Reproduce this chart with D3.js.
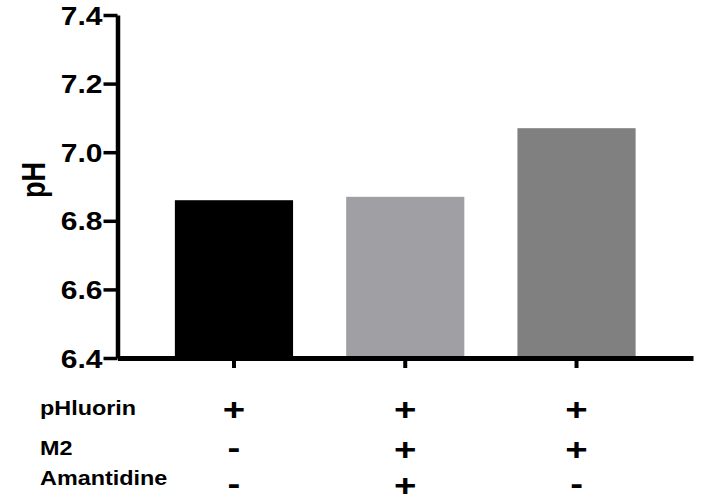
<!DOCTYPE html>
<html>
<head>
<meta charset="utf-8">
<script src="https://cdn.jsdelivr.net/npm/d3@7"></script>
<style>
  html, body { margin: 0; padding: 0; background: #fff; }
  svg { display: block; }
  text { font-family: "Liberation Sans", Arial, Helvetica, sans-serif; font-weight: bold; fill: #000; }
</style>
</head>
<body>
<svg id="chart" width="703" height="504"></svg>
<script>
// ---- data ----
const categories = ["pHluorin", "pHluorin + M2", "pHluorin + M2 + Amantidine"];
const phValues = [6.86, 6.87, 7.07];
const barColors = ["#000000", "#a0a0a4", "#808080"];
const yTicks = [6.4, 6.6, 6.8, 7.0, 7.2, 7.4];
const rowLabels = ["pHluorin", "M2", "Amantidine"];
const rowSigns = [
  ["+", "+", "+"],
  ["-", "+", "+"],
  ["-", "+", "-"]
];
const yLabel = "pH";

// ---- layout ----
const svg = d3.select("#chart");
const axisX = 117.5, axisY = 358, topY = 15, rightX = 693;
const SX = 1.2; // horizontal text stretch
const rowLabelBaselines = [415, 455, 485];
const rowSymbolCenters = [409.5, 449.5, 485.5];

const y = d3.scaleLinear().domain([6.4, 7.4]).range([axisY, topY]);
const x = d3.scaleBand().domain(categories).range([axisX, rightX])
  .paddingInner(0.31).paddingOuter(0.335);

// bars
svg.append("g").selectAll("rect")
  .data(categories)
  .join("rect")
  .attr("x", d => x(d))
  .attr("width", x.bandwidth())
  .attr("y", (d, i) => y(phValues[i]))
  .attr("height", (d, i) => y(6.4) - y(phValues[i]))
  .attr("fill", (d, i) => barColors[i]);

// y axis
const gy = svg.append("g").attr("transform", `translate(${axisX},0)`)
  .call(d3.axisLeft(y).tickValues(yTicks).tickFormat(d3.format(".1f")).tickSize(14).tickSizeOuter(0));
gy.select(".domain").attr("stroke", "#000").attr("stroke-width", 4.5);
gy.selectAll(".tick line").attr("stroke", "#000").attr("stroke-width", 3.5);
gy.selectAll(".tick text")
  .attr("x", null).attr("dy", "0.36em")
  .attr("transform", `translate(-15,0) scale(${SX},1)`)
  .style("font-size", "25px")
  .style("font-family", "'Liberation Sans', Arial, sans-serif")
  .style("font-weight", "bold")
  .attr("fill", "#000")
  .attr("text-anchor", "end");

// x axis
const gx = svg.append("g").attr("transform", `translate(0,${axisY})`)
  .call(d3.axisBottom(x).tickSize(10).tickSizeOuter(0).tickFormat(""));
gx.select(".domain").attr("stroke", "#000").attr("stroke-width", 5);
gx.selectAll(".tick line").attr("stroke", "#000").attr("stroke-width", 4);

// y label
svg.append("text")
  .attr("transform", `translate(45,180) scale(${SX},1) rotate(-90)`)
  .attr("text-anchor", "middle")
  .style("font-size", "27px")
  .text(yLabel);

// row labels
svg.append("g").selectAll("text")
  .data(rowLabels)
  .join("text")
  .attr("transform", (d, i) => `translate(40,${rowLabelBaselines[i]}) scale(${SX},1)`)
  .style("font-size", "19.5px")
  .text(d => d);

// signs
rowSigns.forEach((row, r) => {
  svg.append("g").selectAll("text")
    .data(row)
    .join("text")
    .attr("transform", (d, i) => {
      const cx = x(categories[i]) + x.bandwidth() / 2;
      const base = rowSymbolCenters[r] + (d === "+" ? 10.5 : 8);
      return `translate(${cx},${base}) scale(${SX},1)`;
    })
    .attr("text-anchor", "middle")
    .style("font-size", "32px")
    .text(d => d);
});
</script>
</body>
</html>
